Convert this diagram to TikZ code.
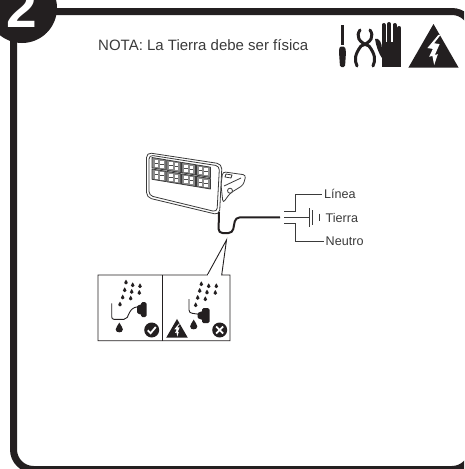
\documentclass[tikz,border=0pt]{standalone}
\usepackage{fontspec}
\setmainfont{Liberation Sans}
\definecolor{inkblack}{HTML}{231F20}
\definecolor{inkgray}{HTML}{3A3A3A}

\begin{document}
\begin{tikzpicture}[
		x=1pt, y=-1pt,
		framerule/.style={draw=inkblack, line width=7pt, rounded corners=20pt},
		thinrule/.style={draw=inkblack, line width=0.9pt},
		wirerule/.style={draw=inkgray, line width=0.9pt},
		cablerule/.style={draw=inkblack, line width=2pt, rounded corners=4pt},
		lamprule/.style={draw=inkgray, line width=0.8pt, line join=round},
		iconrule/.style={draw=inkblack, line width=3pt, line cap=round},
		wirelabel/.style={font=\fontsize{12.6}{14}\selectfont, text=inkgray, inner sep=2pt, anchor=west},
		raindrop/.pic={\fill[inkblack] (0,-1.5) .. controls (.4,-.6) and (1,-.2) .. (1,.4) .. controls (1,1) and (.5,1.2) .. (0,1.2) .. controls (-.5,1.2) and (-1,1) .. (-1,.4) .. controls (-1,-.2) and (-.4,-.6) .. cycle;},
		hazard/.pic={
			\fill[inkblack] (0,-1) -- (1.15,1) -- (-1.15,1) -- cycle;
			\fill[white] (.22,-.5) -- (-.28,.1) -- (-.03,.14) -- (-.2,.5) -- (-.05,.46) -- (.03,.88) -- (.2,.38) -- (.06,.42) -- (.28,-.08) -- (.03,-.12) -- (.32,-.5) -- cycle;},
		]
		\useasboundingbox (0,0) rectangle (464,469);
		\clip (0,0) rectangle (464,469);

		%Frame
		\draw[framerule] (13.5,11.5) rectangle (472,469.5);
		\fill[inkblack] (22,8) circle (35);
		\node[text=white, inner sep=0pt, anchor=base, font=\fontsize{55}{60}\selectfont\bfseries] (stepnum) at (21.5,27) {2};
		\node[inner sep=0pt, anchor=west, text=inkgray, font=\fontsize{15}{18}\selectfont] (nota) at (98,45) {NOTA: La Tierra debe ser física};

		%Tools
		\fill[inkblack] (341,25) rectangle (344,45);
		\fill[inkblack, rounded corners=1.5pt] (339.5,46.5) -- (345,46.5) -- (346,52) -- (345,67) -- (340,67) -- (339,52) -- cycle;
		\draw[iconrule] (369,46) .. controls (358,42) and (356,36) .. (360,30);
		\draw[iconrule] (361,46) .. controls (372,42) and (374,36) .. (370,30);
		\draw[iconrule] (361,46) .. controls (355,54) and (354,60) .. (357,66);
		\draw[iconrule] (369,46) .. controls (375,54) and (376,60) .. (373,66);
		\fill[inkblack] (381.5,42) rectangle (401,67);
		\foreach \fx/\fy in {383.5/25, 389/24, 394.5/25, 399.3/28}
			\draw[inkblack, line width=4pt, line cap=round] (\fx,\fy) -- (\fx,44);
		\fill[inkblack] (375,39) .. controls (379,37) and (382,43) .. (382,49) -- (382,58) .. controls (379,54) and (376,46) .. cycle;
		\pic[scale=21.85] at (433.5,45.85) {hazard};

		%Lamp
		\draw[lamprule, fill=white, rounded corners=3pt] (222.7,171.7) -- (246,175) -- (243.3,185) -- (230,193.3) -- (223,203) -- (221,185) -- cycle;
		\draw[lamprule] (226,174) -- (232,175) -- (231,178) -- (225,177) -- cycle;
		\draw[lamprule] (224,186) -- (241,178);
		\draw[lamprule, fill=white] (230,190.7) circle (2.5);
		\draw[lamprule, fill=white, rounded corners=5pt] (146.5,152.5) -- (222,164) -- (219.5,215) -- (146.5,197.5) -- cycle;
		\draw[lamprule, rounded corners=4pt] (149,155) -- (219.5,166) -- (217,212) -- (149,195.5) -- cycle;
		\foreach \i in {0,1,2,3}
			\foreach \j in {0,1} {
				\pgfmathsetmacro{\mx}{152+14.8*\i}
				\pgfmathsetmacro{\my}{157.5+2.45*\i+11.5*\j}
				\draw[lamprule, fill=black!45] (\mx,\my) -- ({\mx+14},{\my+2.3}) -- ({\mx+14},{\my+12.6}) -- (\mx,{\my+10.3}) -- cycle;
				\fill[white] ({\mx+2.5},{\my+2.2}) rectangle ({\mx+6},{\my+9.5});
				\fill[white] ({\mx+8},{\my+3.2}) rectangle ({\mx+11.5},{\my+10.5});
				\draw[black!70, line width=.5pt] ({\mx+2.5},{\my+5.5}) -- ({\mx+6},{\my+5.5}) ({\mx+8},{\my+6.5}) -- ({\mx+11.5},{\my+6.5});
			}

		%Cable
		\coordinate (lampout) at (219,212);
		\coordinate (cableend) at (280,217.3);
		\draw[cablerule] (lampout) -- (218.5,233) -- (232.5,233) -- (235.5,217.5) -- (cableend);

		%Wires
		\node[wirelabel] (linea)  at (322,194.3) {Línea};
		\node[wirelabel] (tierra) at (323.5,218) {Tierra};
		\node[wirelabel] (neutro) at (323.5,241) {Neutro};
		\coordinate (splitl) at (295,211.7);
		\coordinate (splitn) at (295,223.3);
		\coordinate (earth)  at (309.3,217.3);
		\draw[wirerule] (284,211.7) -- (splitl) -- (splitl |- linea.west) -- (linea.west);
		\draw[wirerule] (284,223.3) -- (splitn) -- (splitn |- neutro.west) -- (neutro.west);
		\draw[wirerule] (284,217.3) -- (earth);
		\draw[wirerule] (309.3,208) -- (309.3,227);
		\draw[wirerule] (312.8,210) -- (312.8,225);
		\draw[wirerule] (319,213.5) -- (319,221);

		%Warning panel
		\draw[thinrule, line join=miter] (207.3,275) -- (98,275) -- (98,340.7) -- (230,340.7) -- (230,275) -- (221.7,275) -- (226.5,240) -- cycle;
		\fill[white] (207.8,274.2) -- (221.2,274.2) -- (221.2,275.8) -- (207.8,275.8) -- cycle;
		\draw[thinrule] (162.7,275) -- (162.7,340.7);

		%Left panel, cord hanging down
		\foreach \dx/\dy in {126/282.3, 132.7/285, 140/286, 124.7/290, 131.7/291.7, 139.3/292.7, 122.7/297.3, 130.7/298.3, 120/304.3}
			\pic[scale=1.8] at (\dx,\dy) {raindrop};
		\draw[thinrule] (111.7,303.3) -- (111.7,316.7) .. controls (111.7,318.5) and (112.5,319.3) .. (114,319.3) -- (124,319.3) .. controls (130,319.3) and (127,307.5) .. (138.3,306.7);
		\fill[inkblack, rounded corners=1.5pt] (141,302) rectangle (146.5,317);
		\fill[inkblack, rounded corners=1pt] (141.5,304) -- (137,306) -- (137,313) -- (141.5,315) -- cycle;
		\pic[scale=3.6] at (119.3,328) {raindrop};
		\fill[inkblack] (151.7,330) circle (7.5);
		\draw[white, line width=1.8pt] (147.8,330.3) -- (150.6,333.2) -- (155.8,327);

		%Right panel, cord kept dry
		\foreach \dx/\dy in {201.3/284, 208.7/286, 216.3/286, 199.7/290.7, 207/292.3, 215.3/292.7, 197.7/297.7, 205.3/299, 195.7/305}
			\pic[scale=1.8] at (\dx,\dy) {raindrop};
		\draw[thinrule] (189,299) -- (189,310) .. controls (189,312) and (190.5,313.3) .. (192.3,313.3) -- (199,314.3);
		\fill[inkblack, rounded corners=1.5pt] (202,308) rectangle (209.5,323);
		\fill[inkblack, rounded corners=1pt] (202.5,311) -- (197.5,313) -- (197.5,318) -- (202.5,320) -- cycle;
		\pic[scale=3.6] at (193.7,325) {raindrop};
		\pic[scale=9.35] at (177,328.3) {hazard};
		\fill[inkblack] (219.7,330) circle (7.5);
		\draw[white, line width=1.8pt] (216.2,326.5) -- (223.2,333.5) (216.2,333.5) -- (223.2,326.5);
		\end{tikzpicture}
\end{document}
